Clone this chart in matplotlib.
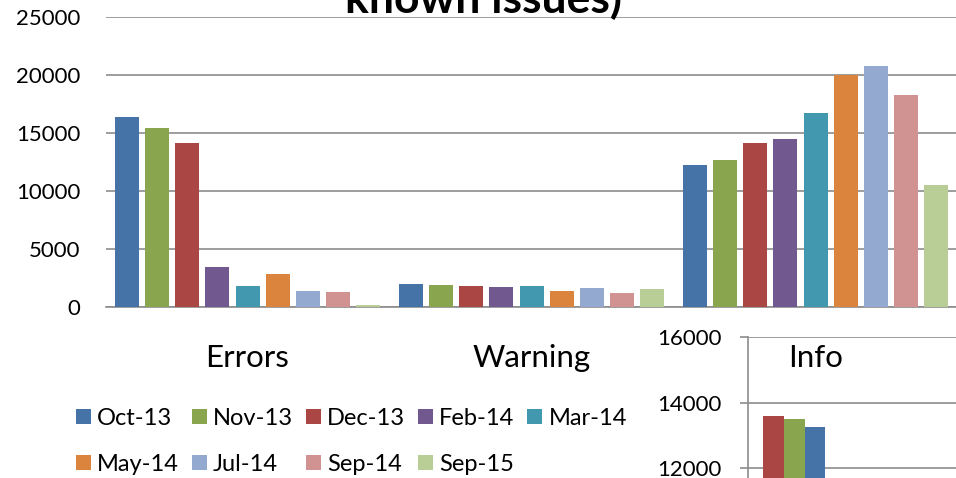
import matplotlib
matplotlib.use("Agg")
import matplotlib.pyplot as plt
import numpy as np

plt.rcParams['font.family'] = ['Lato', 'DejaVu Sans']

# categories and series
categories = ['Errors', 'Warning', 'Info']
months = ['Oct-13', 'Nov-13', 'Dec-13', 'Feb-14', 'Mar-14',
          'May-14', 'Jul-14', 'Sep-14', 'Sep-15']
colors = ['#4572A7', '#89A54E', '#AA4643', '#71588F', '#4198AF',
          '#DB843D', '#93A9CF', '#D19392', '#B9CD96']

errors = [16400, 15450, 14110, 3430, 1850, 2880, 1360, 1270, 210]
warning = [2020, 1900, 1790, 1700, 1790, 1420, 1615, 1210, 1530]
info = [12260, 12690, 14110, 14460, 16700, 19980, 20760, 18310, 10480]

# small chart pasted over the corner
inset_months = ['Dec-13', 'Nov-13', 'Oct-13']
inset_colors = ['#AA4643', '#89A54E', '#4572A7']
inset_info = [13600, 13510, 13260]

W, H = 956, 478
fig = plt.figure(figsize=(W / 100, H / 100), dpi=100)

ax = fig.add_axes([105.5 / W, 1 - 307 / H, 852 / W, 290 / H])
grid_c = '#8c8c8c'

data = np.array([errors, warning, info])
x = np.arange(len(categories))
slot = 30.1 / 284
width = 24 / 284
for i, m in enumerate(months):
    ax.bar(x + (i - 4) * slot, data[:, i], width=width, color=colors[i],
           label=m, zorder=3)

ax.set_xlim(-0.5, 2.5)
ax.set_ylim(0, 25000)
ax.set_yticks(range(0, 25001, 5000))
ax.yaxis.grid(True, color=grid_c, linewidth=1.2, zorder=0)
ax.tick_params(axis='y', length=0, pad=18, labelsize=16)
ax.set_xticks([])
for s in ['left', 'right', 'top']:
    ax.spines[s].set_visible(False)
ax.spines['bottom'].set_color(grid_c)
ax.spines['bottom'].set_linewidth(1.2)

# category labels
for i, c in enumerate(categories):
    ax.text(x[i], -0.207, c, transform=ax.get_xaxis_transform(),
            ha='center', va='baseline', fontsize=22.5)

fig.text(483 / W, 1 - 13 / H, 'known issues)', ha='center', va='baseline',
         fontsize=32, fontweight='bold')

# legend filled row by row like the original
handles, labels = ax.get_legend_handles_labels()
order = [0, 5, 1, 6, 2, 7, 3, 8, 4]
leg = ax.legend([handles[k] for k in order], [labels[k] for k in order],
                loc='upper left', bbox_to_anchor=(76 / W, 1 - 408 / H),
                bbox_transform=fig.transFigure, ncol=5, frameon=False,
                fontsize=17, handlelength=0.64, handleheight=0.6,
                handletextpad=0.25, columnspacing=0.55, labelspacing=1.05,
                borderpad=0, borderaxespad=0)

# inset
ax2 = fig.add_axes([748 / W, 1 - 501 / H, 215 / W, 164 / H])
ax2.patch.set_alpha(0)
xi = 0.215 + (np.arange(len(inset_info)) - 1) * 0.0967
ax2.bar(xi, inset_info, width=0.0967, color=inset_colors, zorder=3)
ax2.set_xlim(0, 1)
ax2.set_ylim(11000, 16000)
ax2.set_yticks([12000, 14000, 16000])
ax2.yaxis.grid(True, color=grid_c, linewidth=1.2, zorder=0)
ax2.tick_params(axis='y', length=5.8, width=1.2, color=grid_c, pad=13,
                labelsize=16)
ax2.set_xticks([])
for s in ['right', 'top', 'bottom']:
    ax2.spines[s].set_visible(False)
ax2.spines['left'].set_color(grid_c)
ax2.spines['left'].set_linewidth(1.2)

fig.savefig('out.png', dpi=100)
